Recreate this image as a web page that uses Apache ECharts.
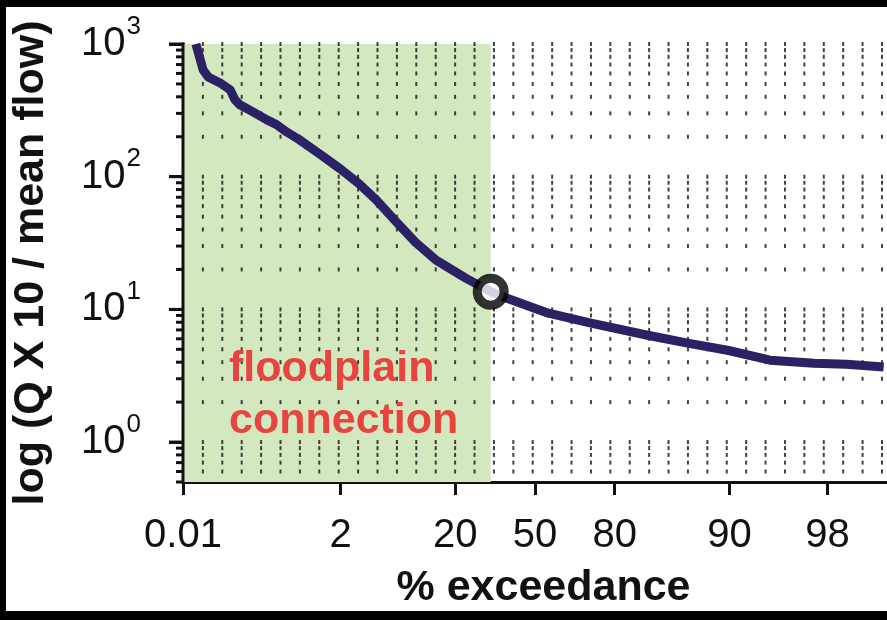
<!DOCTYPE html>
<html><head><meta charset="utf-8">
<script src="https://cdn.jsdelivr.net/npm/echarts@6/dist/echarts.min.js"></script>
<style>html,body{margin:0;padding:0;background:#fff}#c{width:887px;height:620px}</style>
</head><body><div id="c"></div>
<script>
// Flow duration curve: % exceedance vs Q x 10 / mean flow
const exceedance = [0.017, 0.0227, 0.0277, 0.0439, 0.064, 0.0765, 0.091, 0.144, 0.231, 0.319, 0.437, 0.646, 1.14, 1.99, 3.17, 4.68, 7.12, 10.4, 14.8, 23.2, 32.0, 37.0, 55.6, 72.3, 88.3, 94.65, 97.9, 99.35, 99.84, 99.95, 99.9885];
const flow = [1000, 638, 565, 509, 451, 379, 348, 308, 268, 246, 217, 189, 148.4, 114.3, 88.1, 66.7, 45.7, 31.8, 23.5, 17.2, 13.6, 12.4, 9.36, 7.87, 6.38, 5.56, 4.92, 4.14, 3.93, 3.86, 3.68];
// floodplain connection threshold (open circle)
const thresholdExceedance = [32.0];
const thresholdFlow = [13.6];
// axis ticks
const xTickPercents = [0.01, 2, 20, 50, 80, 98, 99.9];
const xTickLabels = ['0.01', '2', '20', '50', '80', '90', '98'];
const yMajor = [1, 10, 100, 1000];
const yMinor = [0.5, 0.6, 0.7, 0.8, 0.9, 2, 3, 4, 5, 6, 7, 8, 9, 20, 30, 40, 50, 60, 70, 80, 90, 200, 300, 400, 500, 600, 700, 800, 900];
const dotRows = [0.6, 0.7, 0.8, 0.9, 1, 2, 3, 4, 5, 6, 7, 8, 9, 10, 20, 30, 40, 50, 60, 70, 80, 90, 100, 200, 300, 400, 500, 600, 700, 800, 900, 1000];

function probit(p) {
  const a=[-3.969683028665376e+01,2.209460984245205e+02,-2.759285104469687e+02,1.383577518672690e+02,-3.066479806614716e+01,2.506628277459239e+00];
  const b=[-5.447609879822406e+01,1.615858368580409e+02,-1.556989798598866e+02,6.680131188771972e+01,-1.328068155288572e+01];
  const c=[-7.784894002430293e-03,-3.223964580411365e-01,-2.400758277161838e+00,-2.549732539343734e+00,4.374664141464968e+00,2.938163982698783e+00];
  const d=[7.784695709041462e-03,3.224671290700398e-01,2.445134137142996e+00,3.754408661907416e+00];
  const pl=0.02425, ph=1-pl; let q, r;
  if (p < pl) { q=Math.sqrt(-2*Math.log(p)); return (((((c[0]*q+c[1])*q+c[2])*q+c[3])*q+c[4])*q+c[5])/((((d[0]*q+d[1])*q+d[2])*q+d[3])*q+1); }
  if (p <= ph) { q=p-0.5; r=q*q; return (((((a[0]*r+a[1])*r+a[2])*r+a[3])*r+a[4])*r+a[5])*q/(((((b[0]*r+b[1])*r+b[2])*r+b[3])*r+b[4])*r+1); }
  q=Math.sqrt(-2*Math.log(1-p)); return -(((((c[0]*q+c[1])*q+c[2])*q+c[3])*q+c[4])*q+c[5])/((((d[0]*q+d[1])*q+d[2])*q+d[3])*q+1);
}
const pz = pct => probit(pct / 100);

const FONT = "'Liberation Sans', Arial, Helvetica, sans-serif";
const INK = '#111';

// dotted grid columns (evenly spaced in probit units)
const xMin = pz(0.01), xMax = pz(99.99);
const dots = [];
for (let k = 0; k < 37; k++) {
  const x = -3.509 + 0.205 * k;
  if (x > xMax) break;
  dotRows.forEach(v => dots.push([x, v]));
}

const xTickPos = xTickPercents.map(pz);
const chart = echarts.init(document.getElementById('c'));
chart.setOption({
  animation: false,
  grid: { left: 183, right: -3, top: 44, bottom: 138 },
  xAxis: {
    type: 'value', min: xMin, max: xMax,
    axisLine: { onZero: false, lineStyle: { color: INK, width: 3 } },
    axisTick: { customValues: xTickPos, length: 13, lineStyle: { color: INK, width: 3 } },
    axisLabel: {
      customValues: xTickPos, margin: 34, fontSize: 40, color: INK, fontFamily: FONT,
      formatter: v => { const i = xTickPos.findIndex(t => Math.abs(t - v) < 1e-6); return i >= 0 ? xTickLabels[i] : ''; }
    },
    splitLine: { show: false },
    name: '% exceedance', nameLocation: 'middle', nameGap: 85,
    nameTextStyle: { fontSize: 43, fontWeight: 'bold', color: INK, fontFamily: FONT, padding: [0, 0, 0, 17] }
  },
  yAxis: {
    type: 'log', logBase: 10, min: 0.5, max: 1000,
    axisLine: { show: true, onZero: false, lineStyle: { color: INK, width: 3 } },
    axisTick: { show: true, customValues: yMajor, length: 14, lineStyle: { color: INK, width: 3 } },
    axisLabel: {
      customValues: yMajor, margin: 42, color: INK, fontFamily: FONT,
      formatter: v => '{b|10}{s|' + Math.round(Math.log10(v)) + '}',
      rich: {
        b: { fontSize: 40, fontFamily: FONT, color: INK, verticalAlign: 'middle' },
        s: { fontSize: 26, fontFamily: FONT, color: INK, verticalAlign: 'middle', padding: [0, 0, 35, 1] }
      }
    },
    splitLine: { show: false },
    name: 'log (Q X 10 / mean flow)', nameLocation: 'middle', nameGap: 130,
    nameTextStyle: { fontSize: 43, fontWeight: 'bold', color: INK, fontFamily: FONT }
  },
  series: [{
    type: 'line', data: [], z: 1, silent: true,
    markArea: {
      silent: true, itemStyle: { color: '#d4e8c0' },
      data: [[{ xAxis: xMin }, { xAxis: pz(thresholdExceedance[0]) }]]
    }
  }, {
    type: 'scatter', data: dots, z: 2, silent: true,
    symbol: 'rect', symbolSize: [2, 4], itemStyle: { color: INK }
  }, {
    type: 'line', data: exceedance.map((p, i) => [pz(p), flow[i]]), z: 3,
    showSymbol: false, silent: true,
    lineStyle: { color: '#2b2265', width: 9, join: 'round' }
  }, {
    type: 'scatter', data: thresholdExceedance.map((p, i) => [pz(p), thresholdFlow[i]]), z: 4,
    symbol: 'circle', symbolSize: 27, silent: true,
    itemStyle: { color: '#fff', borderColor: '#000', borderWidth: 9 }
  }]
});

// y axis line and log ticks, placed through the axis scale
const toX = v => chart.convertToPixel({ xAxisIndex: 0 }, v);
const toY = v => chart.convertToPixel({ yAxisIndex: 0 }, v);
const x0 = toX(xMin);
const axisG = [{ type: 'line', z: 15, silent: true,
  shape: { x1: x0, y1: toY(1000) - 1.5, x2: x0, y2: toY(0.5) + 1.5 }, style: { stroke: INK, lineWidth: 3 } }];
yMajor.forEach(v => { const y = toY(v);
  axisG.push({ type: 'line', z: 15, silent: true, shape: { x1: x0 - 14, y1: y, x2: x0, y2: y }, style: { stroke: INK, lineWidth: 3 } }); });
yMinor.forEach(v => { const y = toY(v);
  axisG.push({ type: 'line', z: 15, silent: true, shape: { x1: x0 - 7, y1: y, x2: x0, y2: y }, style: { stroke: INK, lineWidth: 3 } }); });

chart.setOption({
  graphic: axisG.concat([
    { type: 'text', x: 229, y: 343, z: 10, silent: true,
      style: { text: 'floodplain\nconnection', fontSize: 43, fontWeight: 'bold', fontFamily: FONT,
               fill: '#e8443f', lineHeight: 52, verticalAlign: 'top', align: 'left' } },
    { type: 'rect', z: 20, shape: { x: 0, y: 0, width: 887, height: 7 }, style: { fill: '#000' } },
    { type: 'rect', z: 20, shape: { x: 0, y: 0, width: 6, height: 620 }, style: { fill: '#000' } },
    { type: 'rect', z: 20, shape: { x: 0, y: 611, width: 887, height: 9 }, style: { fill: '#000' } }
  ])
});
</script></body></html>
